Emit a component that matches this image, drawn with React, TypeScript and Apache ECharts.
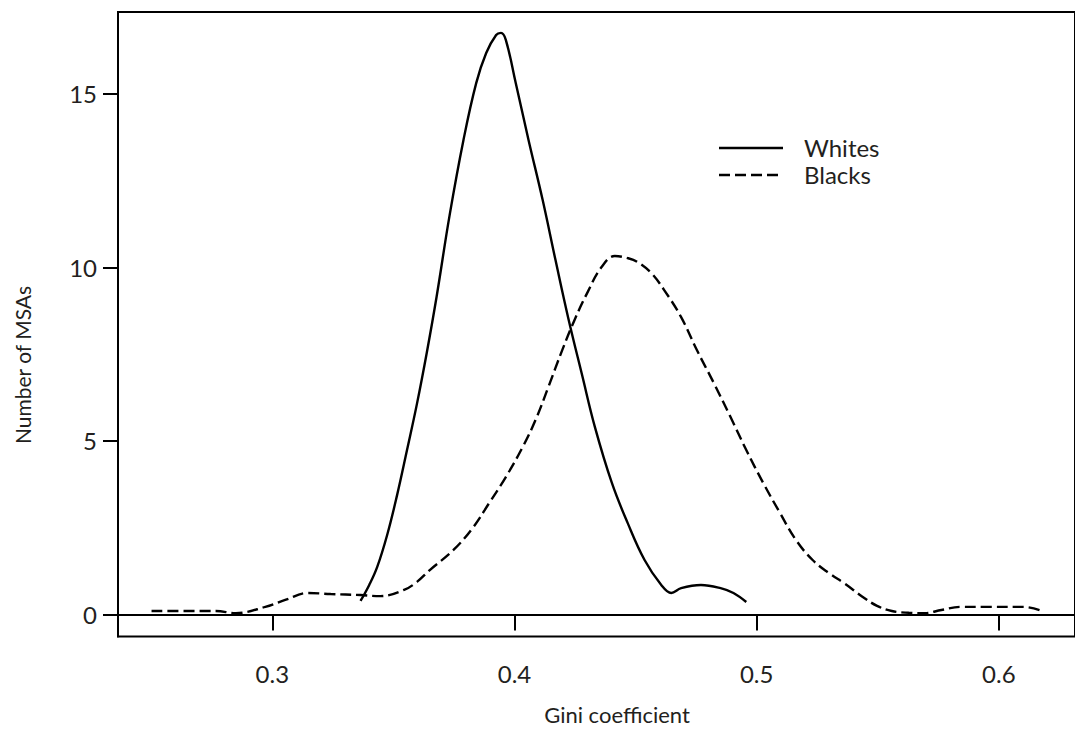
import React, { useEffect, useRef } from "react";
import * as echarts from "echarts";

// Gini coefficient (x) and density "Number of MSAs" (y)
const whitesX = [0.3364, 0.34, 0.3433, 0.3474, 0.3515, 0.3556, 0.3597, 0.3638, 0.3678, 0.3732, 0.3789, 0.3842, 0.3883, 0.3924, 0.3944, 0.3964, 0.4005, 0.4058, 0.4116, 0.4169, 0.4222, 0.4279, 0.4332, 0.4402, 0.4467, 0.4537, 0.4606, 0.4647, 0.4688, 0.477, 0.4851, 0.4904, 0.4957];
const whitesY = [0.39, 0.85, 1.37, 2.29, 3.44, 4.74, 6.07, 7.56, 9.15, 11.51, 13.67, 15.32, 16.18, 16.7, 16.76, 16.56, 15.32, 13.67, 11.95, 10.22, 8.54, 6.9, 5.4, 3.79, 2.64, 1.57, 0.85, 0.62, 0.76, 0.85, 0.76, 0.62, 0.36];

const blacksX = [0.2501, 0.2767, 0.2849, 0.2971, 0.3053, 0.3147, 0.3241, 0.3364, 0.3445, 0.3544, 0.3597, 0.365, 0.3748, 0.383, 0.3895, 0.3964, 0.4034, 0.4087, 0.414, 0.4197, 0.4251, 0.4304, 0.4357, 0.4414, 0.4467, 0.4508, 0.4565, 0.4618, 0.4688, 0.4753, 0.4823, 0.4892, 0.4957, 0.5027, 0.5096, 0.5162, 0.5231, 0.5301, 0.5366, 0.5435, 0.5497, 0.5558, 0.5628, 0.5693, 0.5763, 0.5844, 0.5967, 0.6102, 0.6179];
const blacksY = [0.1, 0.1, 0.04, 0.22, 0.42, 0.62, 0.59, 0.56, 0.53, 0.71, 0.94, 1.28, 1.86, 2.52, 3.21, 3.96, 4.83, 5.61, 6.56, 7.62, 8.54, 9.32, 9.99, 10.33, 10.27, 10.16, 9.84, 9.35, 8.57, 7.62, 6.67, 5.69, 4.74, 3.79, 2.93, 2.15, 1.57, 1.18, 0.88, 0.52, 0.25, 0.1, 0.05, 0.04, 0.13, 0.22, 0.22, 0.22, 0.1];

const xTicks = [0.3, 0.4, 0.5, 0.6];
const yTicks = [0, 5, 10, 15];
const seriesNames = ["Whites", "Blacks"];
const xTitle = "Gini coefficient";
const yTitle = "Number of MSAs";

const FONT = "Lato, 'Noto Sans', sans-serif";
const TEXT = "#231f20";
const DASH = [11, 5];

export default function App() {
  const ref = useRef<HTMLDivElement>(null);
  useEffect(() => {
    if (!ref.current) return;
    const chart = echarts.init(ref.current, null, { renderer: "svg" });
    const zip = (xs: number[], ys: number[]) => xs.map((x, i) => [x, ys[i]]);
    const legendText = (text: string, y: number) => ({
      type: "text",
      x: 804,
      y,
      style: {
        text,
        fontSize: 24,
        fontFamily: FONT,
        lineHeight: 25,
        fill: TEXT,
        textAlign: "left",
        textVerticalAlign: "middle",
      },
    });
    chart.setOption({
      animation: false,
      backgroundColor: "#fff",
      grid: {
        left: 118,
        right: -10,
        top: 12,
        bottom: 96.5,
        show: true,
        borderColor: "#000",
        borderWidth: 2,
        containLabel: false,
      },
      xAxis: {
        type: "value",
        min: 0.23625,
        max: 0.63145,
        splitLine: { show: false },
        axisLine: { show: true, lineStyle: { color: "#000", width: 2 } },
        axisTick: {
          show: true,
          customValues: xTicks,
          length: 16,
          lineStyle: { color: "#000", width: 2 },
        },
        axisLabel: {
          customValues: xTicks,
          formatter: (v: number) => v.toFixed(1),
          fontSize: 24,
          fontFamily: FONT,
          color: TEXT,
          margin: 25,
        },
      },
      yAxis: {
        type: "value",
        min: -0.634,
        max: 17.363,
        splitLine: { show: false },
        axisLine: { show: true, lineStyle: { color: "#000", width: 2 } },
        axisTick: {
          show: true,
          customValues: yTicks,
          length: 15,
          lineStyle: { color: "#000", width: 2 },
        },
        axisLabel: {
          customValues: yTicks,
          fontSize: 24,
          fontFamily: FONT,
          color: TEXT,
          margin: 21,
        },
      },
      series: [
        {
          name: seriesNames[0],
          type: "line",
          data: zip(whitesX, whitesY),
          smooth: 0.4,
          showSymbol: false,
          symbol: "none",
          lineStyle: { color: "#000", width: 2.4, type: "solid" },
        },
        {
          name: seriesNames[1],
          type: "line",
          data: zip(blacksX, blacksY),
          smooth: 0.4,
          showSymbol: false,
          symbol: "none",
          lineStyle: { color: "#000", width: 2.4, type: DASH },
        },
      ],
      graphic: [
        {
          type: "line",
          shape: { x1: 719, y1: 148, x2: 783, y2: 148 },
          style: { stroke: "#000", lineWidth: 2.4 },
        },
        {
          type: "line",
          shape: { x1: 719, y1: 175, x2: 779, y2: 175 },
          style: { stroke: "#000", lineWidth: 2.4, lineDash: DASH },
        },
        legendText(seriesNames[0], 147),
        legendText(seriesNames[1], 174),
        {
          type: "text",
          x: 617,
          y: 714,
          style: {
            text: xTitle,
            font: `22px ${FONT}`,
            fill: TEXT,
            textAlign: "center",
            textVerticalAlign: "middle",
          },
        },
        {
          type: "text",
          x: 22,
          y: 365,
          rotation: Math.PI / 2,
          style: {
            text: yTitle,
            font: `21px ${FONT}`,
            fill: TEXT,
            textAlign: "center",
            textVerticalAlign: "middle",
          },
        },
      ],
    });
    return () => chart.dispose();
  }, []);
  return (
    <div
      ref={ref}
      style={{ position: "absolute", left: 0, top: 0, width: 1075, height: 733 }}
    />
  );
}
